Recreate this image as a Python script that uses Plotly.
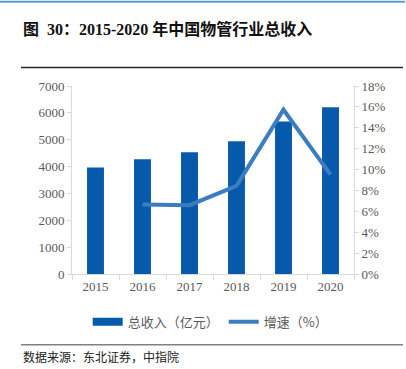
import plotly.graph_objects as go

years = ["2015", "2016", "2017", "2018", "2019", "2020"]
revenue = [3970, 4270, 4530, 4940, 5680, 6210]
growth_years = ["2016", "2017", "2018", "2019", "2020"]
growth = [6.66, 6.59, 8.44, 15.73, 9.52]

W, H = 406, 369
L, R, T, B = 72, 354, 85.5, 274
pw, ph = R - L, B - T

BAR_COLOR = "#0659ab"
LINE_COLOR = "#3b7dc0"

def px(x):
    return (x - L) / pw

def py(y):
    return (B - y) / ph

fig = go.Figure()
fig.add_trace(go.Bar(x=years, y=revenue, name="总收入（亿元）", showlegend=False,
                     marker=dict(color=BAR_COLOR, line=dict(width=0)), width=0.36))
# legend-only entry so the bar swatch is a wide rectangle like the reference
fig.add_trace(go.Scatter(x=[None], y=[None], name="总收入（亿元）", mode="lines",
                         line=dict(color=BAR_COLOR, width=8)))
fig.add_trace(go.Scatter(x=growth_years, y=growth, name="增速（%）", yaxis="y2",
                         mode="lines", line=dict(color=LINE_COLOR, width=4)))

tickfont = dict(family="Liberation Serif, Times New Roman, serif", size=13, color="#595959")
fig.update_layout(
    width=W, height=H,
    margin=dict(l=L, r=W - R, t=T, b=H - B),
    paper_bgcolor="white", plot_bgcolor="white",
    showlegend=True,
    legend=dict(orientation="h", x=0.49, xanchor="center", y=py(322), yanchor="middle",
                font=dict(family="Noto Sans CJK SC", size=13, color="#595959"),
                itemwidth=30, tracegroupgap=0),
    xaxis=dict(type="category", showline=True, linecolor="#d9d9d9", linewidth=1,
               ticks="outside", tickson="boundaries", ticklen=5, tickcolor="#d9d9d9",
               tickfont=tickfont, showgrid=False),
    yaxis=dict(range=[0, 7000], dtick=1000, showline=True, linecolor="#d9d9d9",
               ticks="outside", ticklen=4, tickcolor="#d9d9d9", showgrid=False,
               tickfont=tickfont, zeroline=False),
    yaxis2=dict(range=[0, 18], dtick=2, overlaying="y", side="right", showline=True,
                linecolor="#d9d9d9", ticks="outside", ticklen=4, tickcolor="#d9d9d9",
                showgrid=False, ticksuffix="%", tickfont=tickfont, zeroline=False),
    shapes=[
        dict(type="line", xref="paper", yref="paper", x0=px(0), x1=px(405), y0=py(1), y1=py(1),
             line=dict(color="#5b9bd5", width=2)),
        dict(type="line", xref="paper", yref="paper", x0=px(21), x1=px(403), y0=py(67), y1=py(67),
             line=dict(color="#262626", width=1.5)),
        dict(type="line", xref="paper", yref="paper", x0=px(21), x1=px(403), y0=py(345), y1=py(345),
             line=dict(color="#808080", width=1.5)),
    ],
    annotations=[
        dict(text="<b>图  30：2015-2020 年中国物管行业总收入</b>", xref="paper", yref="paper",
             x=px(21), y=py(28), xanchor="left", yanchor="middle", showarrow=False,
             font=dict(family="Liberation Serif, Noto Sans CJK SC", size=16, color="#111111")),
        dict(text="数据来源：东北证券，中指院", xref="paper", yref="paper",
             x=px(21), y=py(357), xanchor="left", yanchor="middle", showarrow=False,
             font=dict(family="Noto Sans CJK SC", size=12, color="#222222")),
    ],
)

fig.write_html("out.html", config={"displayModeBar": False},
               post_script="document.body.style.margin='0';document.body.style.padding='0';")
